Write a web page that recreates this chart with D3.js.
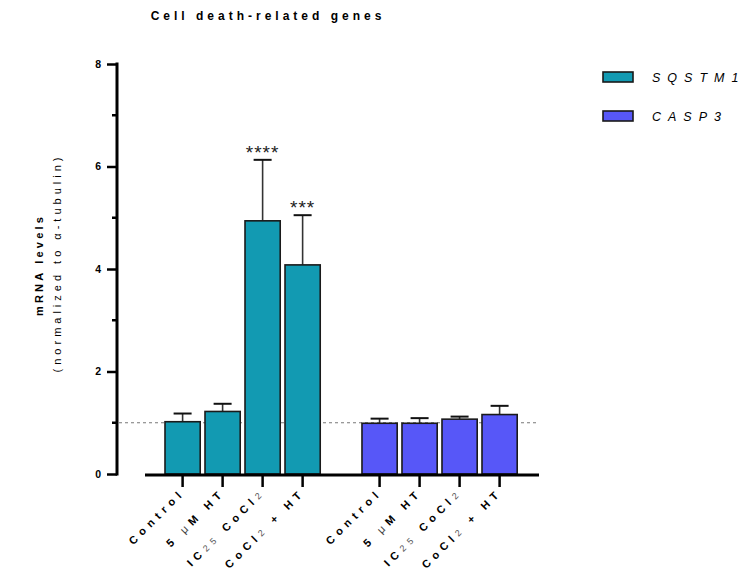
<!DOCTYPE html>
<html>
<head>
<meta charset="utf-8">
<script src="https://cdn.jsdelivr.net/npm/d3@7/dist/d3.min.js"></script>
<style>
  html, body { margin: 0; padding: 0; background: #fff; }
  svg { display: block; font-family: "Liberation Sans", Arial, sans-serif; }
</style>
</head>
<body>
<svg id="chart" width="744" height="588"></svg>
<script>
// Conditions (x categories), shown once per gene group
const conditions = ["Control", "5 μM HT", "IC25 CoCl2", "CoCl2 + HT"];
const genes = ["SQSTM1", "CASP3"];
const geneColors = ["#129ab2", "#5757f8"];

// Mean mRNA levels and upper error (mean + SD) per gene, per condition
const sqstm1Mean = [1.02, 1.22, 4.94, 4.08];
const sqstm1Upper = [1.18, 1.37, 6.13, 5.05];
const casp3Mean = [0.99, 0.99, 1.07, 1.16];
const casp3Upper = [1.08, 1.09, 1.12, 1.33];

// Significance markers above bars
const sqstm1Stars = ["", "", "****", "***"];
const casp3Stars = ["", "", "", ""];

const yTicks = [0, 2, 4, 6, 8];
const yMinorTicks = [1, 3, 5, 7];
const referenceLevel = 1;

const svg = d3.select("#chart");

// Layout
const y = d3.scaleLinear().domain([0, 8]).range([474, 64]);
const yAxisX = 117;
const xAxisStart = 145, xAxisEnd = 539;

// Band positions: two groups of four bars
const groupBand = d3.scaleBand().domain(genes).range([165, 517.2]).paddingInner(0.212).paddingOuter(0);
const barBand = d3.scaleBand().domain(conditions).range([0, groupBand.bandwidth()]).paddingInner(0.12).paddingOuter(0);

const data = [];
genes.forEach((g, gi) => {
  const means = gi === 0 ? sqstm1Mean : casp3Mean;
  const uppers = gi === 0 ? sqstm1Upper : casp3Upper;
  const stars = gi === 0 ? sqstm1Stars : casp3Stars;
  conditions.forEach((c, ci) => {
    data.push({ gene: g, gi, cond: c, mean: means[ci], upper: uppers[ci], star: stars[ci] });
  });
});
const xPos = d => groupBand(d.gene) + barBand(d.cond);
const xMid = d => xPos(d) + barBand.bandwidth() / 2;

// Title
svg.append("text")
  .attr("x", 268).attr("y", 20)
  .attr("text-anchor", "middle")
  .attr("font-size", 12).attr("font-weight", "bold")
  .style("letter-spacing", "4px")
  .text("Cell death-related genes");

// Y axis
const yAxisG = svg.append("g").attr("transform", `translate(${yAxisX},0)`);
yAxisG.call(d3.axisLeft(y).tickValues(yTicks).tickSize(10).tickPadding(6).tickFormat(d3.format("d")));
yAxisG.select(".domain").attr("stroke", "#000").attr("stroke-width", 3)
  .attr("d", `M0,${y(0) + 1.5}V${y(8) - 1.5}`);
yAxisG.selectAll(".tick line").attr("stroke", "#000").attr("stroke-width", 2.5);
yAxisG.selectAll(".tick text").attr("font-size", 10.5).attr("font-weight", "bold").attr("fill", "#000")
  .attr("font-family", "Liberation Sans, Arial, sans-serif");
yAxisG.selectAll(".minor").data(yMinorTicks).enter().append("line")
  .attr("x1", -5).attr("x2", 0)
  .attr("y1", d => y(d)).attr("y2", d => y(d))
  .attr("stroke", "#000").attr("stroke-width", 2.5);

// Y axis titles
svg.append("text")
  .attr("transform", `translate(43,265) rotate(-90)`)
  .attr("text-anchor", "middle")
  .attr("font-size", 11).attr("font-weight", "bold")
  .style("letter-spacing", "3.2px")
  .text("mRNA levels");
svg.append("text")
  .attr("transform", `translate(61,263) rotate(-90)`)
  .attr("text-anchor", "middle")
  .attr("font-size", 11)
  .style("letter-spacing", "4px")
  .text("(normalized to α-tubulin)");

// Reference line at 1.0
svg.append("line")
  .attr("x1", yAxisX + 2).attr("x2", xAxisEnd)
  .attr("y1", y(referenceLevel)).attr("y2", y(referenceLevel))
  .attr("stroke", "#777").attr("stroke-width", 1)
  .attr("stroke-dasharray", "3,3");

// Error bars (upper only)
const eb = svg.append("g");
data.forEach(d => {
  const cx = xMid(d);
  eb.append("line").attr("x1", cx).attr("x2", cx)
    .attr("y1", y(d.mean)).attr("y2", y(d.upper))
    .attr("stroke", "#333").attr("stroke-width", 1.6);
  eb.append("line").attr("x1", cx - 9).attr("x2", cx + 9)
    .attr("y1", y(d.upper)).attr("y2", y(d.upper))
    .attr("stroke", "#111").attr("stroke-width", 2);
});

// Bars
svg.append("g").selectAll("rect").data(data).enter().append("rect")
  .attr("x", d => xPos(d))
  .attr("y", d => y(d.mean))
  .attr("width", barBand.bandwidth())
  .attr("height", d => y(0) - y(d.mean))
  .attr("fill", d => geneColors[d.gi])
  .attr("stroke", "#1a1a1a").attr("stroke-width", 1.6);

// Significance stars
svg.append("g").selectAll("text").data(data.filter(d => d.star)).enter().append("text")
  .attr("x", d => xMid(d))
  .attr("y", d => y(d.upper) - 1)
  .attr("text-anchor", "middle")
  .attr("font-size", 19)
  .style("letter-spacing", "1px")
  .attr("fill", "#222")
  .text(d => d.star);

// X axis
svg.append("line")
  .attr("x1", xAxisStart).attr("x2", xAxisEnd)
  .attr("y1", y(0) + 1).attr("y2", y(0) + 1)
  .attr("stroke", "#000").attr("stroke-width", 3);
const xt = svg.append("g");
const labelParts = {
  "Control": [["Control", "b"]],
  "5 μM HT": [["5 ", "b"], ["μ", "n"], ["M HT", "b"]],
  "IC25 CoCl2": [["IC", "b"], ["25", "s"], [" CoCl", "b"], ["2", "s"]],
  "CoCl2 + HT": [["CoCl", "b"], ["2", "s"], [" + HT", "b"]]
};
data.forEach(d => {
  const cx = xMid(d);
  xt.append("line").attr("x1", cx).attr("x2", cx)
    .attr("y1", y(0) + 1).attr("y2", y(0) + 13)
    .attr("stroke", "#000").attr("stroke-width", 2.5);

  const t = xt.append("text")
    .attr("transform", `translate(${cx + 3},${y(0) + 19}) rotate(-45)`)
    .attr("text-anchor", "end")
    .attr("font-size", 11).attr("font-weight", "bold")
    .style("letter-spacing", "5px");
  labelParts[d.cond].forEach(([s, kind]) => {
    const ts = t.append("tspan").text(s);
    if (kind === "n") ts.attr("font-weight", "normal").attr("fill", "#444");
    if (kind === "s") ts.attr("font-weight", "normal").attr("font-size", 9).attr("fill", "#555");
  });
});

// Legend
const legend = svg.append("g");
genes.forEach((g, i) => {
  const ly = 72 + i * 39;
  legend.append("rect")
    .attr("x", 603).attr("y", ly)
    .attr("width", 30).attr("height", 10)
    .attr("fill", geneColors[i])
    .attr("stroke", "#1a1a1a").attr("stroke-width", 1.6);
  legend.append("text")
    .attr("x", 652).attr("y", ly + 10)
    .attr("font-size", 12.5).attr("font-style", "italic")
    .style("letter-spacing", "7px")
    .text(g);
});
</script>
</body>
</html>
